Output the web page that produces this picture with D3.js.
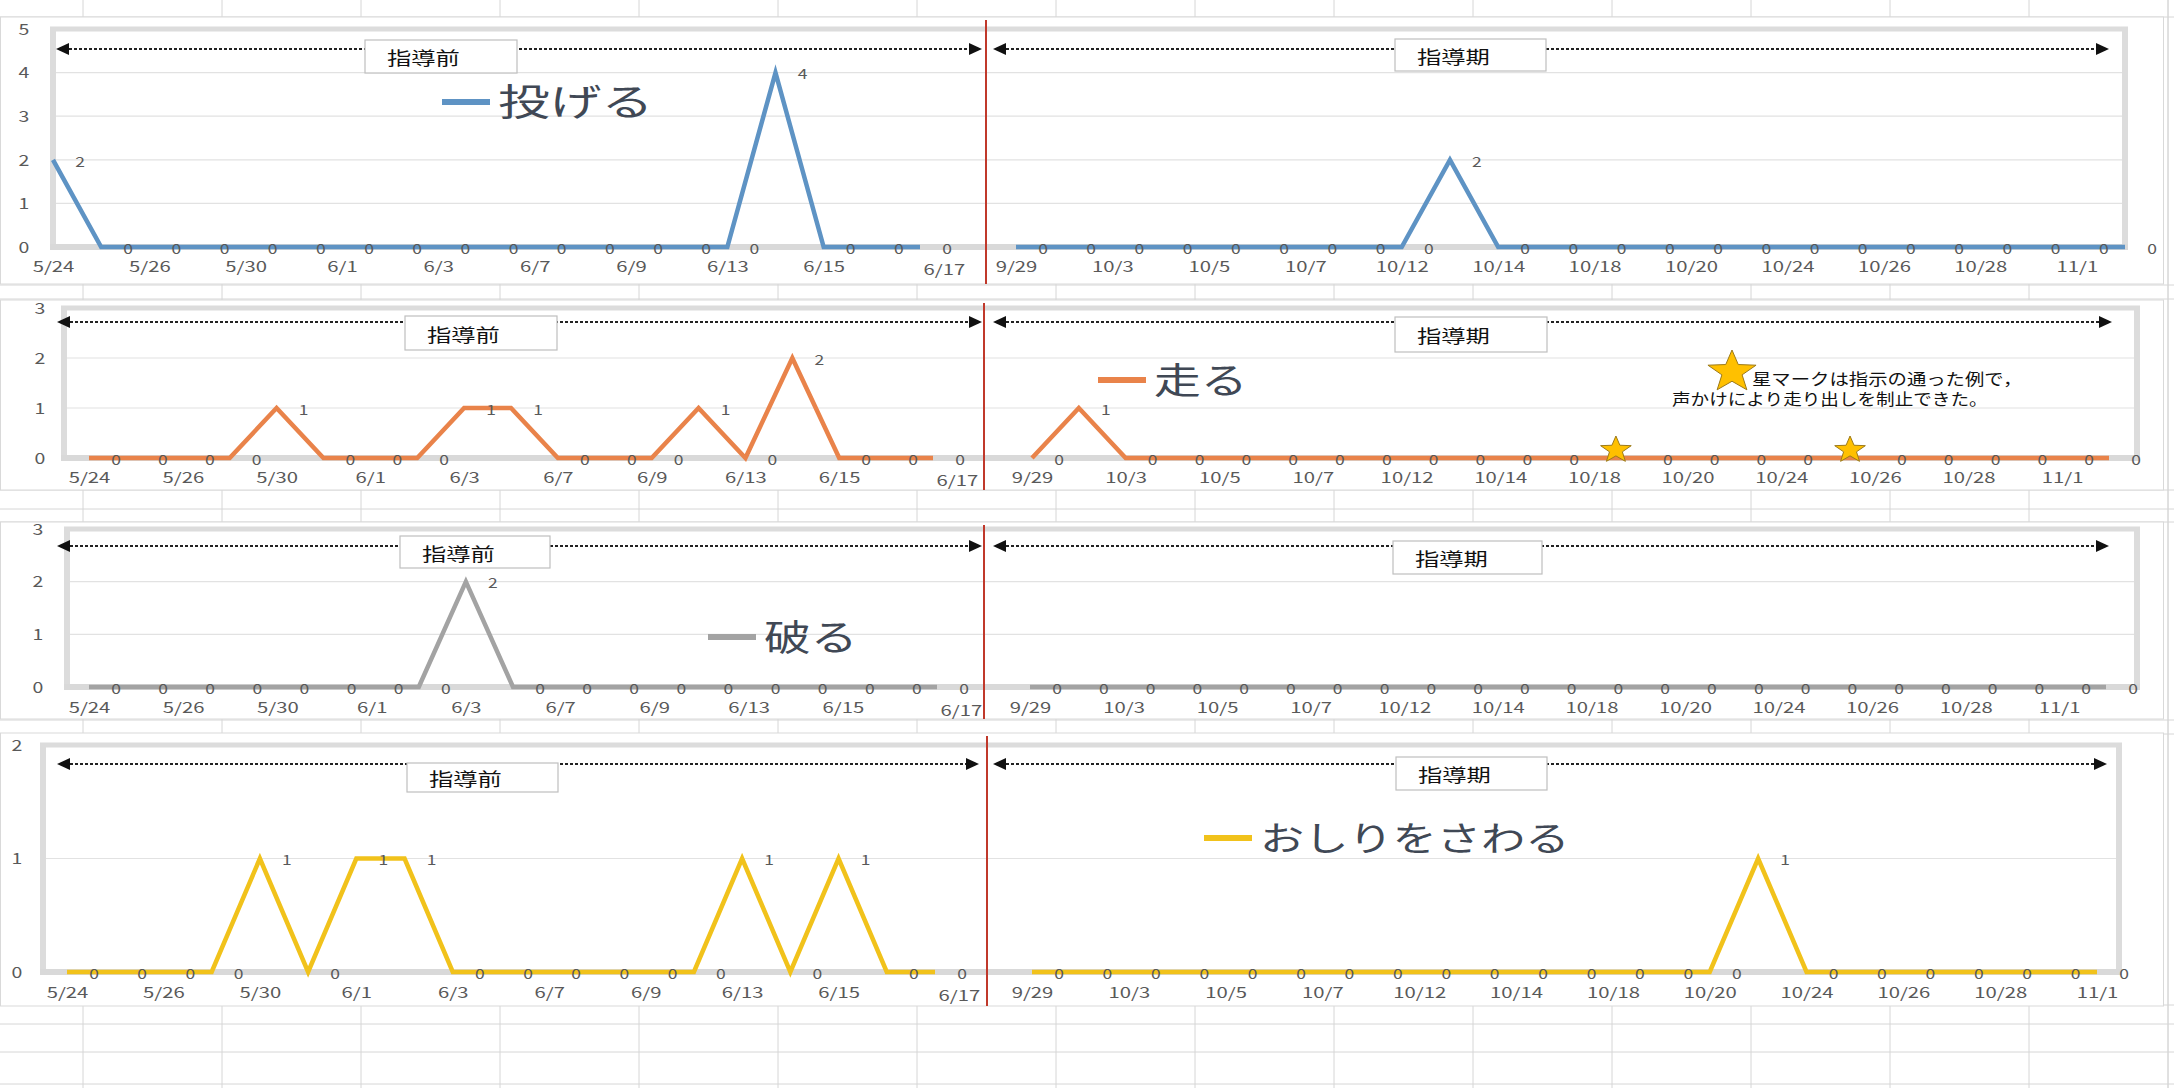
<!DOCTYPE html>
<html><head><meta charset="utf-8">
<script src="https://cdn.jsdelivr.net/npm/d3@7"></script>
<style>body{margin:0;background:#fff;overflow:hidden;} svg{display:block;}</style>
</head><body>
<svg id="c" width="2174" height="1088"></svg>
<script>
// ---------------- DATA ----------------
const leftDates = ["5/24","5/25","5/26","5/27","5/30","5/31","6/1","6/2","6/3","6/6","6/7","6/8","6/9","6/10","6/13","6/14","6/15","6/16","6/17"];
const rightDates = ["9/29","9/30","10/3","10/4","10/5","10/6","10/7","10/11","10/12","10/13","10/14","10/17","10/18","10/19","10/20","10/21","10/24","10/25","10/26","10/27","10/28","10/31","11/1","11/2"];
const rightDatesTouch = ["9/29","9/30","10/3","10/4","10/5","10/6","10/7","10/11","10/12","10/13","10/14","10/17","10/18","10/19","10/20","10/21","10/24","10/25","10/26","10/27","10/28","10/31","11/1"];
const leftTickLabels = ["5/24","5/26","5/30","6/1","6/3","6/7","6/9","6/13","6/15","6/17"];
const rightTickLabels = ["9/29","10/3","10/5","10/7","10/12","10/14","10/18","10/20","10/24","10/26","10/28","11/1"];

const throwLeft  = [2,0,0,0,0,0,0,0,0,0,0,0,0,0,0,4,0,0,0];
const throwRight = [0,0,0,0,0,0,0,0,0,2,0,0,0,0,0,0,0,0,0,0,0,0,0,0];
const runLeft    = [0,0,0,0,1,0,0,0,1,1,0,0,0,1,0,2,0,0,0];
const runRight   = [0,1,0,0,0,0,0,0,0,0,0,0,0,0,0,0,0,0,0,0,0,0,0,0];
const tearLeft   = [0,0,0,0,0,0,0,0,2,0,0,0,0,0,0,0,0,0,0];
const tearRight  = [0,0,0,0,0,0,0,0,0,0,0,0,0,0,0,0,0,0,0,0,0,0,0,0];
const touchLeft  = [0,0,0,0,1,0,1,1,0,0,0,0,0,0,1,0,1,0,0];
const touchRight = [0,0,0,0,0,0,0,0,0,0,0,0,0,0,0,1,0,0,0,0,0,0,0];

const runStarDates = ["10/18","10/25"];
const seriesNames = ["投げる","走る","破る","おしりをさわる"];
const seriesColors = ["#5e93c4","#e9834a","#a3a3a3","#f1c21b"];
const yMaxes = [5,3,3,2];
const periodLabels = ["指導前","指導期"];
const noteLines = ["星マークは指示の通った例で，","声かけにより走り出しを制止できた。"];

// ---------------- LAYOUT ----------------
const FONT = "'Noto Sans CJK JP','Noto Sans',sans-serif";
const panels = [
  {left:throwLeft, right:throwRight, rDates:rightDates, area:[17,284], fx:[53,2125], fy:[29,247],
   xl:[53,920], xr:[1016,2125], red:986, arrowY:49, arrL:[56,982], arrR:[993,2109],
   box1:[365,40,152,33], box2:[1395,39,151,32], leg:[442,102], yLabX:24, xLabY:267, legSize:37, legSx:1.4},
  {left:runLeft, right:runRight, rDates:rightDates, area:[300,490], fx:[64,2137], fy:[308,458],
   xl:[89,933], xr:[1032,2109], red:984, arrowY:322, arrL:[57,982], arrR:[993,2112],
   box1:[405,316,152,34], box2:[1395,317,152,35], leg:[1098,380], yLabX:40, xLabY:478, legSize:36, legSx:1.3},
  {left:tearLeft, right:tearRight, rDates:rightDates, area:[522,719], fx:[67,2137], fy:[529,687],
   xl:[89,937], xr:[1030,2106], red:984, arrowY:546, arrL:[57,982], arrR:[993,2109],
   box1:[400,536,150,32], box2:[1393,541,149,33], leg:[708,637], yLabX:38, xLabY:708, legSize:36, legSx:1.3},
  {left:touchLeft, right:touchRight, rDates:rightDatesTouch, area:[733,1006], fx:[43,2119], fy:[745,972],
   xl:[67,935], xr:[1032,2097], red:987, arrowY:764, arrL:[57,979], arrR:[993,2107],
   box1:[407,763,151,29], box2:[1396,757,151,33], leg:[1204,838], yLabX:17, xLabY:993, legSize:34, legSx:1.3}
];

const svg = d3.select("#c");

// Excel sheet background grid
const sheet = svg.append("g");
const colXs = d3.range(83, 2174, 139);
sheet.selectAll("line.col").data(colXs).join("line")
  .attr("x1", d=>d).attr("x2", d=>d).attr("y1",0).attr("y2",1088)
  .attr("stroke","#d6d6d6").attr("stroke-width",1);
const rowYs = [17,285,299,490,509,522,720,734,1005,1024,1052,1084];
sheet.selectAll("line.row").data(rowYs).join("line")
  .attr("x1",0).attr("x2",2174).attr("y1",d=>d).attr("y2",d=>d)
  .attr("stroke","#d6d6d6").attr("stroke-width",1);
sheet.append("line").attr("x1",2168).attr("x2",2168).attr("y1",0).attr("y2",1088).attr("stroke","#d6d6d6");

function txt(g, x, y, s, o) {
  return g.append("text")
    .attr("transform", `translate(${x},${y}) scale(${o.sx||1},1)`)
    .attr("text-anchor", o.anchor||"middle")
    .attr("dominant-baseline","central")
    .attr("font-family", FONT)
    .attr("font-size", o.size)
    .attr("fill", o.fill||"#595959")
    .text(s);
}

function arrowHead(g, x, y, dir) {
  const w = 13, h = 6;
  const pts = dir < 0 ? [[x,y],[x+w,y-h],[x+w,y+h]] : [[x,y],[x-w,y-h],[x-w,y+h]];
  g.append("polygon").attr("points", pts.map(p=>p.join(",")).join(" ")).attr("fill","#111");
}

function star(cx, cy, r) {
  const pts = [];
  for (let i=0;i<10;i++){
    const a = -Math.PI/2 + i*Math.PI/5;
    const rr = i%2===0 ? r : r*0.42;
    pts.push([cx+rr*Math.cos(a)*1.15, cy+rr*Math.sin(a)]);
  }
  return pts.map(p=>p.join(",")).join(" ");
}

panels.forEach((p, pi) => {
  const g = svg.append("g");
  const color = seriesColors[pi];
  // chart area
  g.append("rect").attr("x",0.5).attr("y",p.area[0]).attr("width",2163).attr("height",p.area[1]-p.area[0])
    .attr("fill","#fff").attr("stroke","#d9d9d9").attr("stroke-width",1);

  const y = d3.scaleLinear().domain([0, yMaxes[pi]]).range([p.fy[1], p.fy[0]]);
  const xL = d3.scalePoint().domain(leftDates).range(p.xl);
  const xR = d3.scalePoint().domain(p.rDates).range(p.xr);

  // gridlines
  g.selectAll("line.grid").data(y.ticks(yMaxes[pi]).filter(v=>v>0 && v<yMaxes[pi])).join("line")
    .attr("x1",p.fx[0]).attr("x2",p.fx[1]).attr("y1",d=>y(d)).attr("y2",d=>y(d))
    .attr("stroke","#e2e2e2").attr("stroke-width",1.2);
  // plot frame (top, left, right) and axis line
  g.append("line").attr("x1",p.fx[0]-3).attr("x2",p.fx[1]+3).attr("y1",p.fy[0]).attr("y2",p.fy[0])
    .attr("stroke","#dcdcdc").attr("stroke-width",5);
  g.append("line").attr("x1",p.fx[0]).attr("x2",p.fx[0]).attr("y1",p.fy[0]).attr("y2",p.fy[1])
    .attr("stroke","#dcdcdc").attr("stroke-width",6);
  g.append("line").attr("x1",p.fx[1]).attr("x2",p.fx[1]).attr("y1",p.fy[0]).attr("y2",p.fy[1])
    .attr("stroke","#dcdcdc").attr("stroke-width",6);
  g.append("line").attr("x1",p.fx[0]-3).attr("x2",p.fx[1]+3).attr("y1",p.fy[1]).attr("y2",p.fy[1])
    .attr("stroke","#d9d9d9").attr("stroke-width",6);

  // y axis labels
  const yAx = g.append("g").attr("transform",`translate(${p.yLabX},0)`)
    .call(d3.axisLeft(y).ticks(yMaxes[pi]).tickSize(0).tickPadding(0).tickFormat(d3.format("d")));
  yAx.select(".domain").remove();
  yAx.selectAll("text").attr("x",0).attr("text-anchor","middle").attr("dy","0.35em")
    .attr("font-family",FONT).attr("font-size",15).attr("fill","#595959")
    .attr("transform","scale(1.3,1)");

  // x axes
  [[xL,leftTickLabels],[xR,rightTickLabels]].forEach(([sc,ticks], si) => {
    const ax = g.append("g").attr("transform",`translate(0,${p.xLabY})`)
      .call(d3.axisBottom(sc).tickValues(ticks).tickSize(0).tickPadding(0));
    ax.select(".domain").remove();
    ax.selectAll("text").attr("y",0).attr("dy","0.35em")
      .attr("font-family",FONT).attr("font-size",14.5).attr("fill","#595959")
      .attr("transform","scale(1.4,1)");
    if (si===0) ax.selectAll("text").filter(d=>d==="6/17").attr("dx",17).attr("y",3);
  });

  // red divider
  g.append("line").attr("x1",p.red).attr("x2",p.red).attr("y1",p.area[0]+3).attr("y2",p.area[1])
    .attr("stroke","#c0392b").attr("stroke-width",2);

  // series lines
  const lineGen = sc => d3.line().x(d=>sc(d.date)).y(d=>y(d.v));
  const leftPts = leftDates.map((d,i)=>({date:d, v:p.left[i]}));
  const rightPts = p.rDates.map((d,i)=>({date:d, v:p.right[i]}));
  [[xL,leftPts],[xR,rightPts]].forEach(([sc,pts]) => {
    g.append("path").datum(pts).attr("d", lineGen(sc)).attr("fill","none")
      .attr("stroke",color).attr("stroke-width",4.5).attr("stroke-linejoin","miter");
  });

  // data labels
  const stars = pi===1 ? runStarDates : [];
  [[xL,leftPts],[xR,rightPts]].forEach(([sc,pts]) => {
    pts.forEach(d => {
      if (sc===xR && stars.includes(d.date)) return;
      txt(g, sc(d.date)+27, y(d.v)+1, String(d.v), {size:14, sx:1.25, fill:"#595959"});
    });
  });
  if (pi===1) {
    runStarDates.forEach(d => {
      g.append("polygon").attr("points", star(xR(d)+22, y(0)-8, 14))
        .attr("fill","#ffc000").attr("stroke","#9c7a1a").attr("stroke-width",1);
    });
  }

  // period arrows
  const ag = g.append("g");
  [p.arrL, p.arrR].forEach(a => {
    ag.append("line").attr("x1",a[0]+8).attr("x2",a[1]-8).attr("y1",p.arrowY).attr("y2",p.arrowY)
      .attr("stroke","#222").attr("stroke-width",2).attr("stroke-dasharray","3,2");
    arrowHead(ag, a[0], p.arrowY, -1);
    arrowHead(ag, a[1], p.arrowY, 1);
  });
  [p.box1, p.box2].forEach((b, bi) => {
    g.append("rect").attr("x",b[0]).attr("y",b[1]).attr("width",b[2]).attr("height",b[3])
      .attr("fill","#fff").attr("stroke","#bfbfbf").attr("stroke-width",1.2);
    txt(g, b[0]+22, b[1]+b[3]/2+1, periodLabels[bi], {size:18, sx:1.35, anchor:"start", fill:"#111"});
  });

  // legend
  g.append("line").attr("x1",p.leg[0]).attr("x2",p.leg[0]+48).attr("y1",p.leg[1]).attr("y2",p.leg[1])
    .attr("stroke",color).attr("stroke-width",6);
  txt(g, p.leg[0]+56, p.leg[1]-2, seriesNames[pi], {size:p.legSize, sx:p.legSx, anchor:"start", fill:"#404855"});

  // note (run panel)
  if (pi===1) {
    g.append("polygon").attr("points", star(1732, 372, 22))
      .attr("fill","#ffc000").attr("stroke","#9c7a1a").attr("stroke-width",1);
    txt(g, 1752, 378, noteLines[0], {size:15.5, sx:1.25, anchor:"start", fill:"#111"});
    txt(g, 1672, 398, noteLines[1], {size:15.5, sx:1.2, anchor:"start", fill:"#111"});
  }
});
</script>
</body></html>
